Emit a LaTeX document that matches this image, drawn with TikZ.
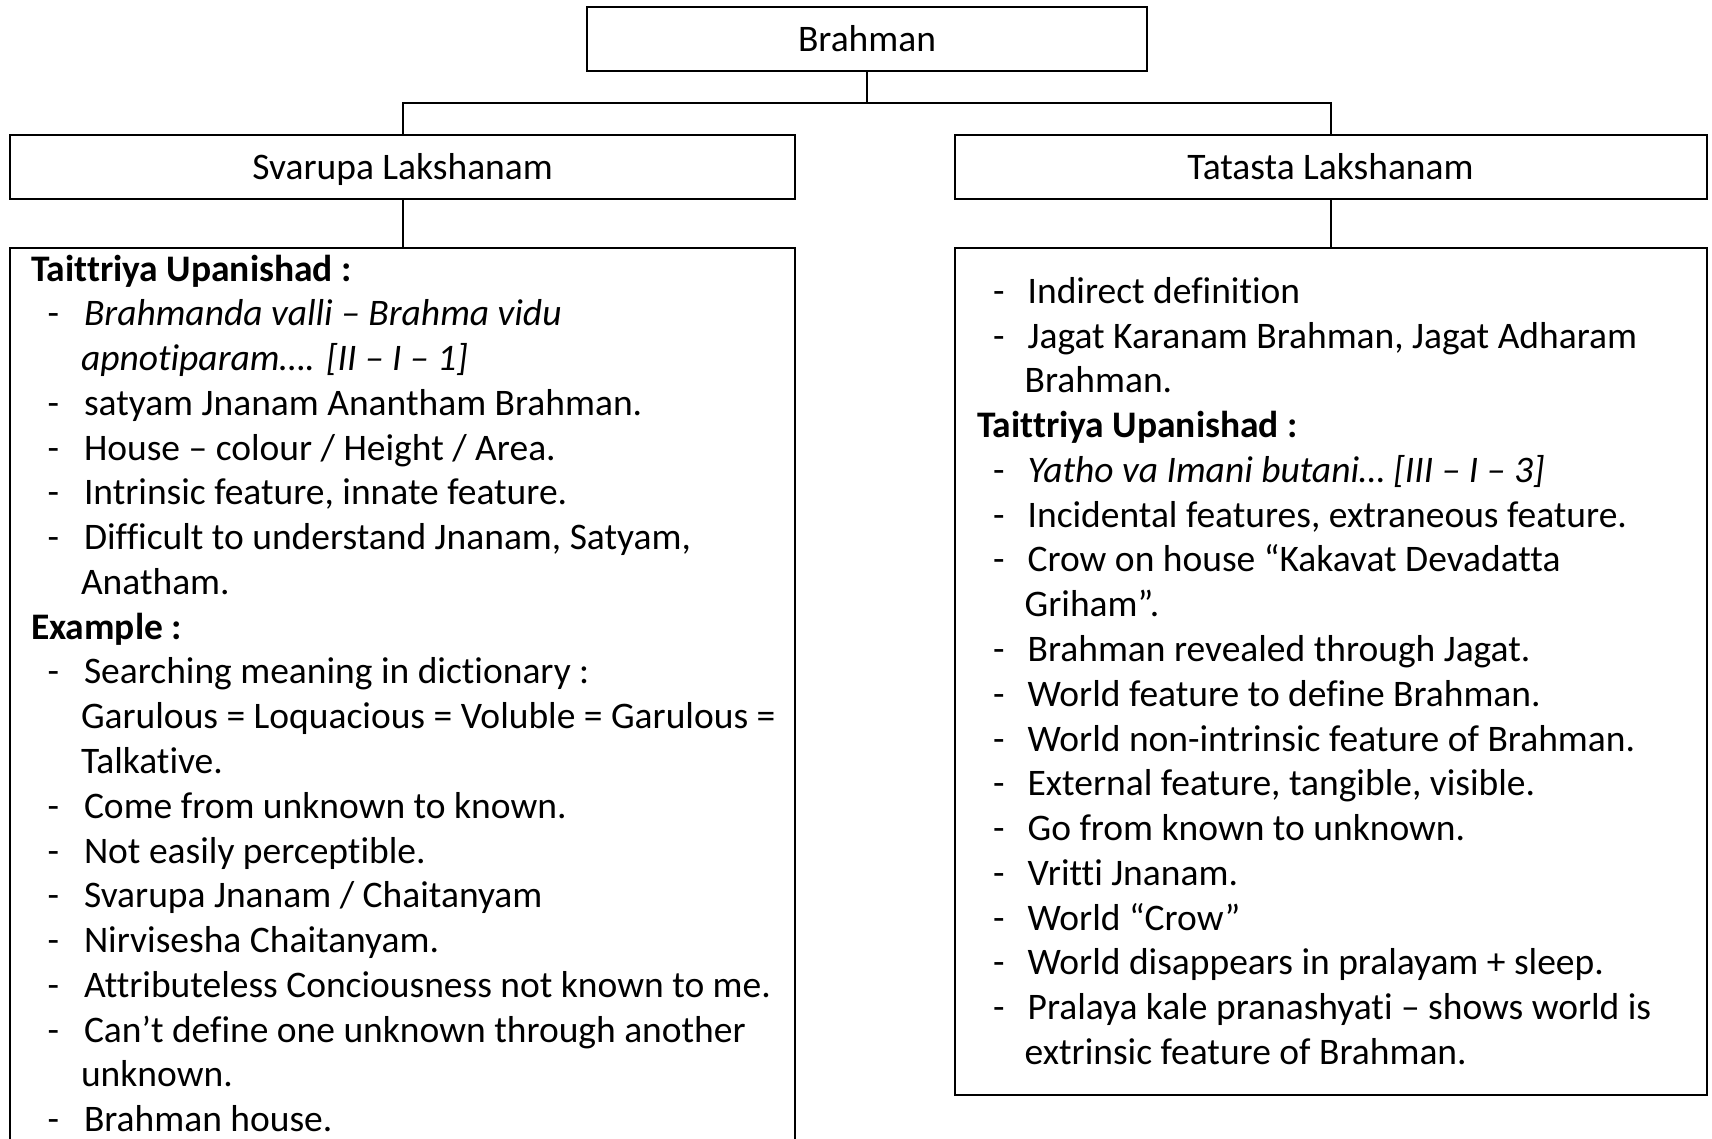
\documentclass[tikz,border=0pt]{standalone}
\usepackage{fontspec}
\setmainfont{Carlito}[Ligatures={NoCommon}]
\newcommand\bodyfont{\fontsize{37.5}{44.77}\selectfont}
% baselines and line pitch of the two text columns
\newcommand\lbase{236.23}
\newcommand\rbase{258.53}
\newcommand\pitch{44.77}
\tikzset{
  box/.style={draw, line width=2pt, rectangle, inner sep=0pt, font=\bodyfont,
    text height=30pt, text depth=4.4pt},
  ln/.style={anchor=base west, inner sep=0pt, outer sep=0pt, font=\bodyfont},
  wire/.style={line width=2pt}
}
% left column: heading, dashed item, continuation line
\newcommand\Lhead[2]{\node[ln,font=\bodyfont\bfseries] (L#1) at (31,{\lbase+#1*\pitch}) {#2};}
\newcommand\Litem[2]{\node[ln] (Ld#1) at (47.5,{\lbase+#1*\pitch}) {-};
  \node[ln] (L#1) at (84,{\lbase+#1*\pitch}) {#2};}
\newcommand\Lcont[2]{\node[ln] (L#1) at (81,{\lbase+#1*\pitch}) {#2};}
% right column
\newcommand\Rhead[2]{\node[ln,font=\bodyfont\bfseries] (R#1) at (977,{\rbase+#1*\pitch}) {#2};}
\newcommand\Ritem[2]{\node[ln] (Rd#1) at (993,{\rbase+#1*\pitch}) {-};
  \node[ln] (R#1) at (1027.6,{\rbase+#1*\pitch}) {#2};}
\newcommand\Rcont[2]{\node[ln] (R#1) at (1024.7,{\rbase+#1*\pitch}) {#2};}
\begin{document}
\begin{tikzpicture}[x=1pt,y=-1pt]
\clip (0,0) rectangle (1712,1138);
\useasboundingbox (0,0) rectangle (1712,1138);
\fill[white] (0,0) rectangle (1712,1138);

% hierarchy boxes
\node[box, minimum width=560pt, minimum height=64pt] (brahman) at (867,38.7) {Brahman};
\node[box, minimum width=784.7pt, minimum height=64pt] (svarupa) at (402.65,167) {Svarupa Lakshanam};
\node[box, minimum width=752pt, minimum height=64pt] (tatasta) at (1330.5,167) {Tatasta Lakshanam};

% content boxes (the left one runs past the lower edge)
\node[box, minimum width=784.7pt, minimum height=940pt, anchor=north] (leftbox) at (402.65,247) {};
\node[box, minimum width=752pt, minimum height=847pt, anchor=north] (rightbox) at (1330.5,247) {};

% connectors
\coordinate (bus) at (867,102.7);
\draw[wire] (brahman.south) -- (bus) -| (svarupa.north);
\draw[wire] (bus) -| (tatasta.north);
\draw[wire] (svarupa.south) -- (leftbox.north);
\draw[wire] (tatasta.south) -- (rightbox.north);

% left column text
\Lhead{1}{Taittriya Upanishad :}
\Litem{2}{\itshape Brahmanda valli – Brahma vidu}
\Lcont{3}{\itshape apnotiparam…. [II – I – 1]}
\Litem{4}{satyam Jnanam Anantham Brahman.}
\Litem{5}{House – colour / Height / Area.}
\Litem{6}{Intrinsic feature, innate feature.}
\Litem{7}{Difficult to understand Jnanam, Satyam,}
\Lcont{8}{Anatham.}
\Lhead{9}{Example :}
\Litem{10}{Searching meaning in dictionary :}
\Lcont{11}{Garulous = Loquacious = Voluble = Garulous =}
\Lcont{12}{Talkative.}
\Litem{13}{Come from unknown to known.}
\Litem{14}{Not easily perceptible.}
\Litem{15}{Svarupa Jnanam / Chaitanyam}
\Litem{16}{Nirvisesha Chaitanyam.}
\Litem{17}{Attributeless Conciousness not known to me.}
\Litem{18}{Can’t define one unknown through another}
\Lcont{19}{unknown.}
\Litem{20}{Brahman house.}

% right column text
\Ritem{1}{Indirect definition}
\Ritem{2}{Jagat Karanam Brahman, Jagat Adharam}
\Rcont{3}{Brahman.}
\Rhead{4}{Taittriya Upanishad :}
\Ritem{5}{\itshape Yatho va Imani butani… [III – I – 3]}
\Ritem{6}{Incidental features, extraneous feature.}
\Ritem{7}{Crow on house “Kakavat Devadatta}
\Rcont{8}{Griham”.}
\Ritem{9}{Brahman revealed through Jagat.}
\Ritem{10}{World feature to define Brahman.}
\Ritem{11}{World non-intrinsic feature of Brahman.}
\Ritem{12}{External feature, tangible, visible.}
\Ritem{13}{Go from known to unknown.}
\Ritem{14}{Vritti Jnanam.}
\Ritem{15}{World “Crow”}
\Ritem{16}{World disappears in pralayam + sleep.}
\Ritem{17}{Pralaya kale pranashyati – shows world is}
\Rcont{18}{extrinsic feature of Brahman.}
\end{tikzpicture}
\end{document}
